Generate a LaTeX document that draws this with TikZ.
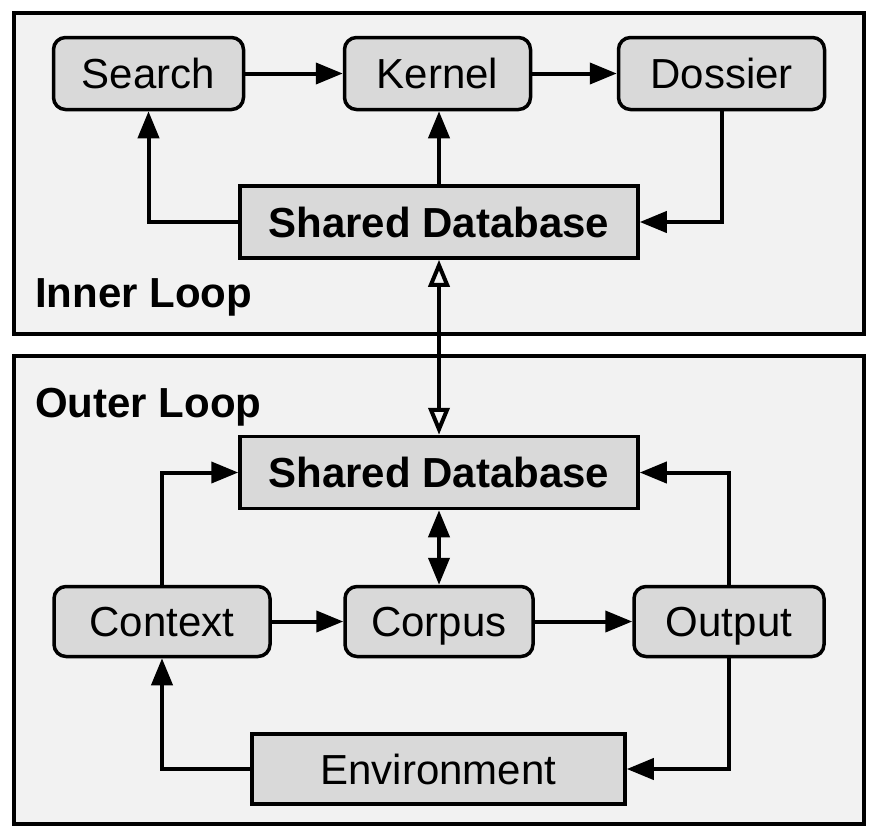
\documentclass[tikz,border=0pt]{standalone}
\usepackage{fontspec}
\setmainfont{Liberation Sans}
\usetikzlibrary{arrows.meta}
\definecolor{panelfill}{HTML}{F2F2F2}
\definecolor{nodefill}{HTML}{D9D9D9}
\begin{document}
\begin{tikzpicture}[x=1pt,y=-1pt,
  panel/.style={draw=black,line width=4pt,fill=panelfill},
  rbox/.style={draw=black,line width=3.5pt,fill=nodefill,rounded corners=12pt,inner sep=0pt,minimum height=72pt,text height=30pt,text depth=0pt,font=\fontsize{42}{50}\selectfont},
  sbox/.style={draw=black,line width=3.5pt,fill=nodefill,inner sep=0pt,minimum height=72pt,text height=30pt,text depth=0pt,font=\bfseries\fontsize{42}{50}\selectfont},
  lbl/.style={anchor=base west,inner sep=0pt,font=\bfseries\fontsize{42}{50}\selectfont},
  conn/.style={line width=4pt,-{Triangle[length=27pt,width=21pt]}},
  biconn/.style={line width=4pt,{Triangle[length=27pt,width=21pt]}-{Triangle[length=27pt,width=21pt]}},
  openconn/.style={line width=4pt,{Triangle[open,length=27pt,width=21pt]}-{Triangle[open,length=27pt,width=21pt]}}
]
\useasboundingbox[fill=white] (0,0) rectangle (880,836);
\draw[panel] (14,13) rectangle (864,334);
\draw[panel] (14,356) rectangle (864,824);
\node[lbl] (inl) at (35,307) {Inner Loop};
\node[lbl] (outl) at (35,417) {Outer Loop};

\node[rbox,minimum width=190pt] (search) at (148.5,73.5) {Search};
\node[rbox,minimum width=186pt] (kernel) at (437.5,73.5) {Kernel};
\node[rbox,minimum width=206pt] (dossier) at (721.5,73.5) {Dossier};
\node[sbox,minimum width=398pt] (dbi) at (439,222) {Shared Database};

\node[sbox,minimum width=398pt] (dbo) at (439,472.5) {Shared Database};
\node[rbox,minimum width=216pt,minimum height=70pt] (context) at (162,621.5) {Context};
\node[rbox,minimum width=188pt,minimum height=70pt] (corpus) at (439,621.5) {Corpus};
\node[rbox,minimum width=190pt,minimum height=70pt] (output) at (729,621.5) {Output};
\node[sbox,minimum width=373pt,minimum height=70pt,font=\fontsize{42}{50}\selectfont] (env) at (438.5,769) {Environment};

\draw[conn] (search.east) -- (kernel.west);
\draw[conn] (kernel.east) -- (dossier.west);
\draw[conn] (dbi.west) -| (search.south);
\draw[conn] (dbi.north) -- (dbi.north |- kernel.south);
\draw[conn] (dossier.south) |- (dbi.east);
\draw[openconn] (dbi.south) -- (dbo.north);

\draw[conn] (context.north) |- (dbo.west);
\draw[conn] (output.north) |- (dbo.east);
\draw[biconn] (corpus.north) -- (dbo.south);
\draw[conn] (context.east) -- (corpus.west);
\draw[conn] (corpus.east) -- (output.west);
\draw[conn] (output.south) |- (env.east);
\draw[conn] (env.west) -| (context.south);
\end{tikzpicture}
\end{document}
